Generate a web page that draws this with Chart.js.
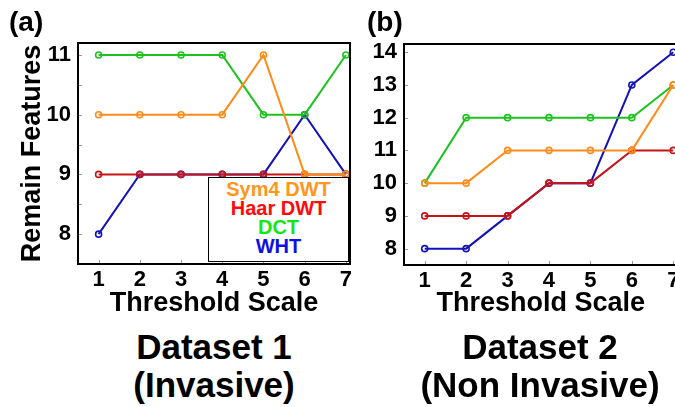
<!DOCTYPE html>
<html>
<head>
<meta charset="utf-8">
<script src="https://cdn.jsdelivr.net/npm/chart.js@4"></script>
<style>
  html, body { margin:0; padding:0; background:#fff; overflow:hidden; width:675px; height:407px; }
  body { position:relative; font-family:"Liberation Sans", Arial, Helvetica, sans-serif; }
  .wrap { position:absolute; }
  .lbl { position:absolute; font-weight:bold; color:#000; white-space:nowrap; }
  .ds { position:absolute; font-weight:bold; font-size:35px; line-height:38px; text-align:center; width:320px; color:#000; }
  #legend { position:absolute; left:208px; top:177px; width:139px; height:81px; border:1.8px solid #000; background:#fff; text-align:center; font-weight:bold; font-size:20px; line-height:19px; padding-top:2px; box-sizing:content-box; }
</style>
</head>
<body>
<div class="wrap" style="left:0;top:0;width:360px;height:320px;"><canvas id="c1" width="360" height="320"></canvas></div>
<div class="wrap" style="left:340px;top:0;width:360px;height:320px;"><canvas id="c2" width="360" height="320"></canvas></div>
<div class="lbl" style="left:9px;top:8px;font-size:28px;line-height:28px;">(a)</div>
<div class="lbl" style="left:367px;top:8px;font-size:28px;line-height:28px;">(b)</div>
<div class="ds" style="left:54px;top:328px;">Dataset 1<br>(Invasive)</div>
<div class="ds" style="left:380px;top:328px;">Dataset 2<br>(Non Invasive)</div>
<div id="legend"></div>
<script>
// ---- data ----
const thresholdScale = [1, 2, 3, 4, 5, 6, 7];
const seriesNames = ['Sym4 DWT', 'Haar DWT', 'DCT', 'WHT'];

// Dataset 1 (Invasive)
const d1Sym4 = [10, 10, 10, 10, 11, 9, 9];
const d1Haar = [9, 9, 9, 9, 9, 9, 9];
const d1DCT  = [11, 11, 11, 11, 10, 10, 11];
const d1WHT  = [8, 9, 9, 9, 9, 10, 9];

// Dataset 2 (Non Invasive)
const d2Sym4 = [10, 10, 11, 11, 11, 11, 13];
const d2Haar = [9, 9, 9, 10, 10, 11, 11];
const d2DCT  = [10, 12, 12, 12, 12, 12, 13];
const d2WHT  = [8, 8, 9, 10, 10, 13, 14];

const yTicks1 = [8, 9, 10, 11];
const yTicks2 = [8, 9, 10, 11, 12, 13, 14];
const yMinorTicks1 = [8, 8.5, 9, 9.5, 10, 10.5, 11];

// ---- styles ----
const lineColors = ['#FF8C1A', '#C41418', '#1EC21E', '#1212B8'];
const legendColors = ['#FF961E', '#FF0A0A', '#14E614', '#1010E6'];
const FONT = '"Liberation Sans", Arial, Helvetica, sans-serif';
Chart.defaults.font.family = FONT;
Chart.defaults.color = '#000';

// legend (HTML text built from series names)
const lg = document.getElementById('legend');
seriesNames.forEach((n, i) => {
  const d = document.createElement('div');
  d.textContent = n;
  d.style.color = legendColors[i];
  lg.appendChild(d);
});

function mkDatasets(arrs) {
  return arrs.map((arr, i) => ({
    label: seriesNames[i],
    data: thresholdScale.map((x, j) => ({x: x, y: arr[j]})),
    borderColor: lineColors[i],
    backgroundColor: 'rgba(255,255,255,0)',
    pointBorderColor: lineColors[i],
    pointBackgroundColor: 'rgba(255,255,255,0)',
    pointRadius: 3,
    pointBorderWidth: 1.6,
    borderWidth: 2,
    tension: 0
  }));
}

const framePlugin = {
  id: 'frame',
  afterDraw(chart, args, opts) {
    const {ctx, chartArea: a, scales} = chart;
    ctx.save();
    // small inward ticks
    ctx.strokeStyle = '#999';
    ctx.lineWidth = 1;
    (opts.yMinor || []).forEach(v => {
      const y = Math.round(scales.y.getPixelForValue(v)) + 0.5;
      ctx.beginPath(); ctx.moveTo(a.left, y); ctx.lineTo(a.left + 4, y); ctx.stroke();
    });
    (opts.xMinor || []).forEach(v => {
      const x = Math.round(scales.x.getPixelForValue(v)) + 0.5;
      ctx.beginPath(); ctx.moveTo(x, a.bottom); ctx.lineTo(x, a.bottom - 4); ctx.stroke();
    });
    ctx.strokeStyle = '#000';
    ctx.lineWidth = 2;
    ctx.strokeRect(a.left, a.top, a.right - a.left, a.bottom - a.top);
    ctx.restore();
  }
};

function mkChart(id, arrs, cfg) {
  return new Chart(document.getElementById(id), {
    type: 'line',
    data: { datasets: mkDatasets(arrs) },
    options: {
      responsive: false,
      animation: false,
      devicePixelRatio: 1,
      layout: { padding: cfg.padding },
      plugins: {
        legend: { display: false },
        tooltip: { enabled: false },
        frame: { yMinor: cfg.yMinor, xMinor: thresholdScale }
      },
      scales: {
        x: {
          type: 'linear',
          min: 0.5, max: 7.1,
          afterBuildTicks: s => { s.ticks = thresholdScale.map(v => ({value: v})); },
          afterFit: s => { s.height = cfg.xHeight; },
          grid: { display: false, drawTicks: false, tickLength: 0 },
          border: { display: false },
          ticks: { font: { size: 22, weight: 'bold' }, color: '#000', padding: 3, maxRotation: 0, autoSkip: false },
          title: { display: true, text: 'Threshold Scale', font: { size: 27, weight: 'bold' }, color: '#000', padding: { top: 0, bottom: 0 } }
        },
        y: {
          type: 'linear',
          min: 7.5, max: cfg.yMax,
          afterBuildTicks: s => { s.ticks = cfg.yTicks.map(v => ({value: v})); },
          afterFit: s => { s.width = cfg.yWidth; },
          grid: { display: false, drawTicks: false, tickLength: 0 },
          border: { display: false },
          ticks: { font: { size: 22, weight: 'bold' }, color: '#000', padding: 7 },
          title: { display: cfg.yTitle, text: 'Remain Features', font: { size: 27, weight: 'bold' }, color: '#000', padding: { top: 16, bottom: 0 } }
        }
      }
    },
    plugins: [framePlugin]
  });
}

mkChart('c1', [d1Sym4, d1Haar, d1DCT, d1WHT], {
  padding: { top: 43, right: 10, bottom: 0, left: 0 },
  xHeight: 56, yWidth: 78, yMax: 11.2, yTicks: yTicks1, yMinor: yMinorTicks1, yTitle: true
});
mkChart('c2', [d2Sym4, d2Haar, d2DCT, d2WHT], {
  padding: { top: 44, right: 22.6, bottom: 0, left: 0 },
  xHeight: 55, yWidth: 64, yMax: 14.25, yTicks: yTicks2, yMinor: yTicks2, yTitle: false
});
</script>
</body>
</html>
